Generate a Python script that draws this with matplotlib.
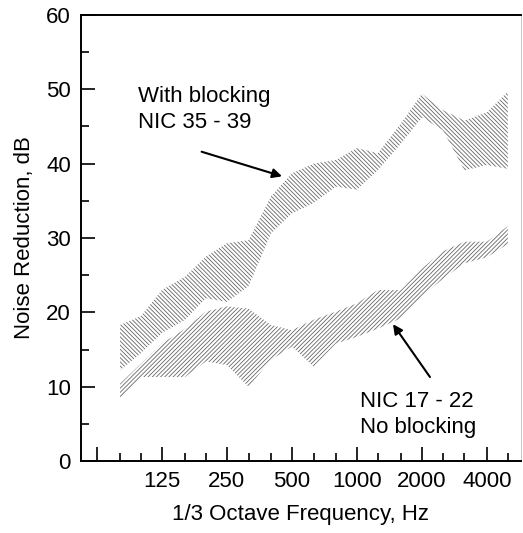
import matplotlib.pyplot as plt
from matplotlib.ticker import FixedLocator, NullFormatter

plt.rcParams['font.family'] = ['Liberation Sans', 'DejaVu Sans']
plt.rcParams['hatch.linewidth'] = 0.6

# 1/3 octave band centre frequencies, Hz
freqs = [80, 100, 125, 160, 200, 250, 315, 400, 500, 630, 800,
         1000, 1250, 1600, 2000, 2500, 3150, 4000, 5000]

# with blocking (NIC 35 - 39): upper and lower edges of the range, dB
with_hi = [18.3, 19.5, 23.0, 24.8, 27.5, 29.3, 29.7, 35.6, 38.7, 40.0,
           40.5, 42.1, 41.4, 45.4, 49.4, 47.2, 45.8, 46.9, 49.7]
with_lo = [12.2, 14.5, 17.2, 19.0, 21.9, 21.4, 23.5, 30.6, 33.3, 34.7,
           36.9, 36.5, 39.1, 42.7, 46.2, 44.5, 39.1, 39.8, 39.3]

# no blocking (NIC 17 - 22)
no_hi = [10.4, 13.1, 15.8, 17.8, 20.1, 20.8, 20.5, 18.3, 17.6, 19.0,
         20.1, 21.2, 23.0, 23.0, 25.9, 28.2, 29.5, 29.5, 31.6]
no_lo = [8.4, 11.3, 11.3, 11.3, 13.4, 12.9, 10.0, 13.6, 15.4, 12.7,
         15.8, 16.7, 17.8, 19.2, 22.2, 24.5, 26.6, 27.4, 29.2]

major_ticks = [62.5, 125, 250, 500, 1000, 2000, 4000]
major_labels = ['', '125', '250', '500', '1000', '2000', '4000']
minor_ticks = [80, 100, 160, 200, 315, 400, 630, 800, 1250, 1600,
               2500, 3150, 5000]

fig = plt.figure(figsize=(5.23, 5.33), dpi=100)
ax = fig.add_axes([0.154, 0.135, 0.842, 0.837])

ax.fill_between(freqs, with_lo, with_hi, facecolor='none',
                edgecolor='#666666', lw=0, hatch='\\' * 8)
ax.fill_between(freqs, no_lo, no_hi, facecolor='none',
                edgecolor='#666666', lw=0, hatch='/' * 8)

ax.set_xscale('log', base=2)
ax.set_xlim(52.5, 5750)
ax.set_ylim(0, 60)

ax.xaxis.set_major_locator(FixedLocator(major_ticks))
ax.xaxis.set_minor_locator(FixedLocator(minor_ticks))
ax.set_xticklabels(major_labels)
ax.xaxis.set_minor_formatter(NullFormatter())
ax.set_yticks(range(0, 61, 10))
ax.set_yticks(range(5, 60, 10), minor=True)

ax.tick_params(which='both', direction='in', labelsize=16, width=1.2,
               top=False, right=False)
ax.tick_params(which='major', length=10, pad=7)
ax.tick_params(which='minor', length=6)

for side in ['left', 'bottom', 'top']:
    ax.spines[side].set_linewidth(1.4)
ax.spines['right'].set_linewidth(0.6)
ax.spines['right'].set_color('#bbbbbb')

ax.set_xlabel('1/3 Octave Frequency, Hz', fontsize=16, labelpad=9)
ax.set_ylabel('Noise Reduction, dB', fontsize=16, labelpad=8)

ax.text(97, 50.4, 'With blocking\nNIC 35 - 39', fontsize=16,
        ha='left', va='top', linespacing=1.3)
ax.annotate('', xy=(450, 38.3), xytext=(191, 41.6),
            arrowprops=dict(arrowstyle='-|>', color='black', lw=1.5,
                            mutation_scale=14, shrinkA=0, shrinkB=0))

ax.text(1032, 9.4, 'NIC 17 - 22\nNo blocking', fontsize=16,
        ha='left', va='top', linespacing=1.3)
ax.annotate('', xy=(1470, 18.4), xytext=(2180, 11.3),
            arrowprops=dict(arrowstyle='-|>', color='black', lw=1.5,
                            mutation_scale=14, shrinkA=0, shrinkB=0))

fig.savefig('out.png', dpi=100)
plt.close(fig)
print('Created out.png')
